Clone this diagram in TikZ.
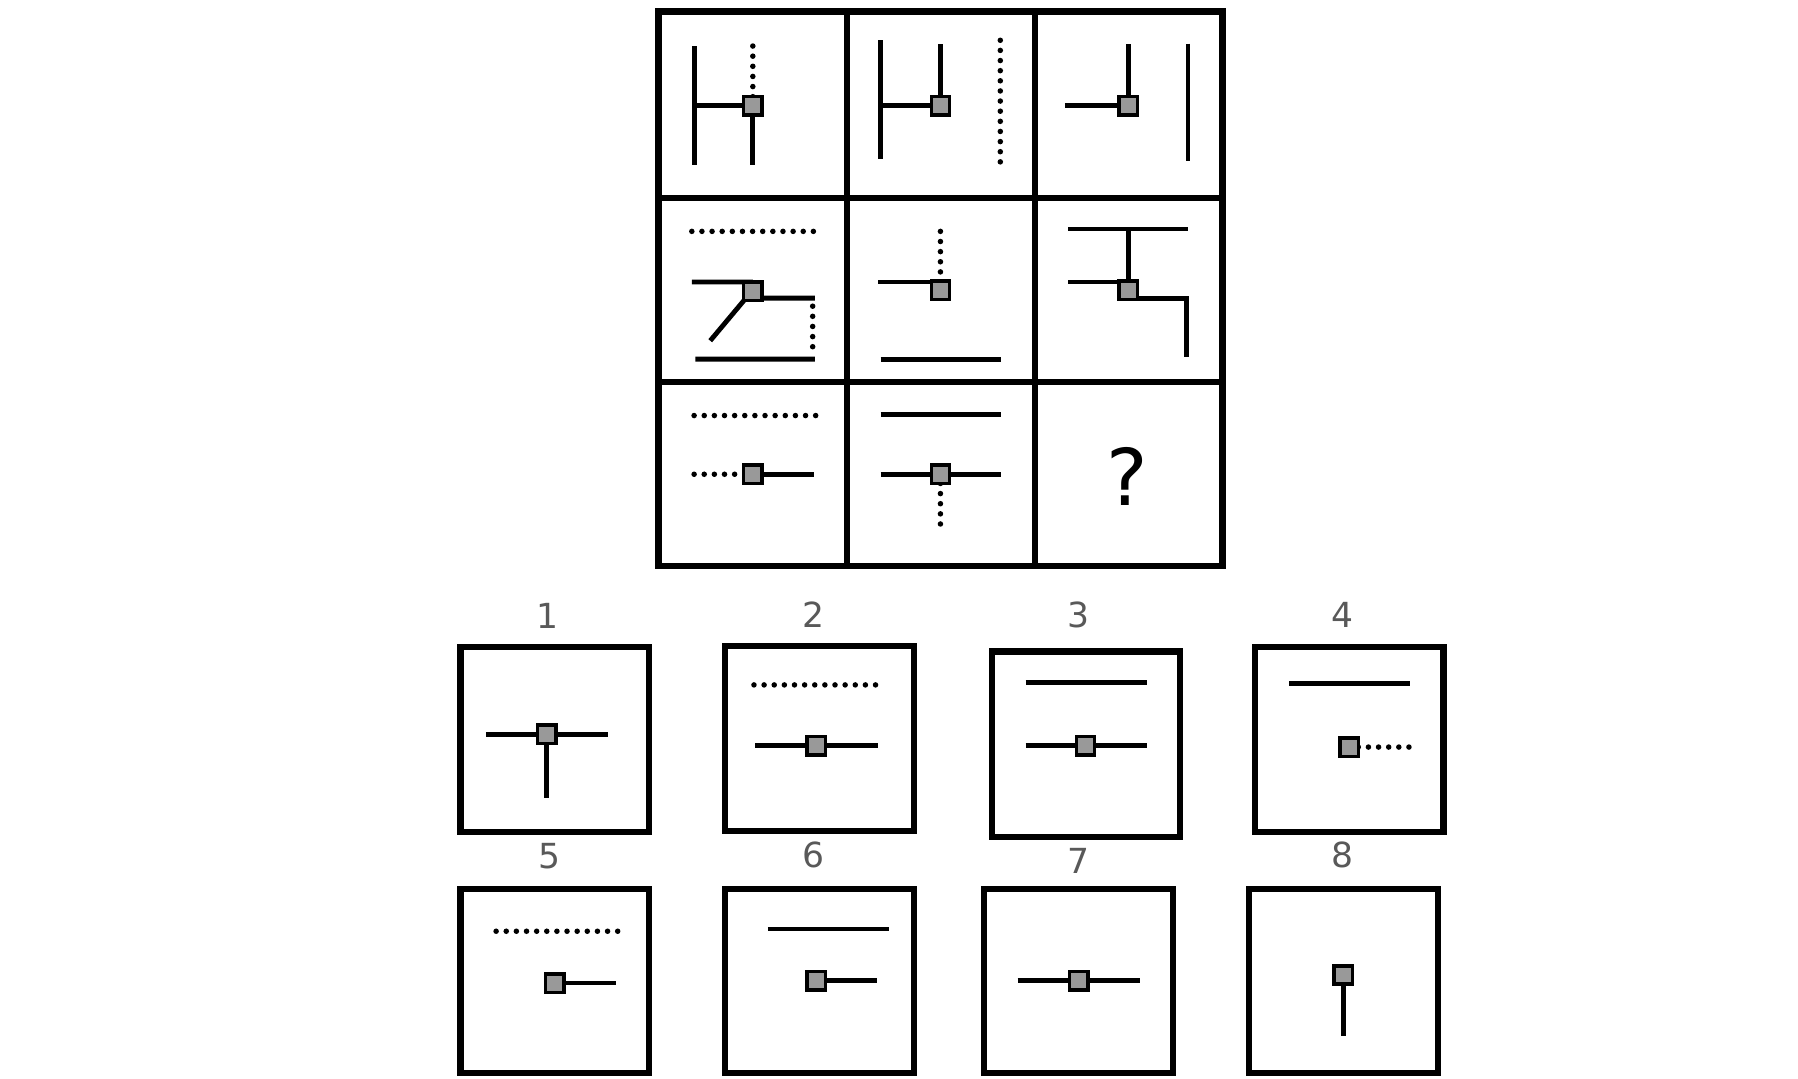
\documentclass[tikz,border=0pt]{standalone}
\usepackage{fontspec}
\setsansfont{DejaVu Sans}
\begin{document}
\begin{tikzpicture}[x=0.5pt,y=-0.5pt,
  frame/.style={line width=2.7pt},
  ln/.style={line width=2.1pt},
  dt/.style={line width=2.4pt,line cap=round,dash pattern=on 0pt off 4.4pt},
  mk/.style={draw=black,fill=gray!80,line width=1.5pt,minimum size=8pt,inner sep=0pt},
  lab/.style={font=\sffamily\fontsize{15}{15}\selectfont,text=black!65}]
\useasboundingbox (0,0) rectangle (1562,937);
% grid
\draw[frame] (572,10) rectangle (1062,492);
\draw[frame] (736,10) -- (736,492) (899,10) -- (899,492) (572,172) -- (1062,172) (572,332) -- (1062,332);
% cell 1
\draw[ln] (603,40) -- (603,143) (603,92) -- (654,92) (654,92) -- (654,143);
\draw[dt] (654,40) -- (654,86);
\node[mk] (m1) at (654,92) {};
% cell 2
\draw[ln] (765,35) -- (765,138) (765,92) -- (817,92) -- (817,38);
\draw[dt] (869,35) -- (869,142);
\node[mk] (m2) at (817,92) {};
% cell 3
\draw[ln] (925,92) -- (980,92) -- (980,38) (1032,38) -- (1032,140);
\node[mk] (m3) at (980,92) {};
% cell 4
\draw[dt] (601,201) -- (708,201);
\draw[ln] (601,245) -- (654,245) (654,259) -- (708,259) (648,259) -- (617,296) (604,312) -- (708,312);
\draw[dt] (706,266) -- (706,306);
\node[mk] (m4) at (654,253) {};
% cell 5
\draw[dt] (817,201) -- (817,244);
\draw[ln] (763,245) -- (817,245) (765,312) -- (870,312);
\node[mk] (m5) at (817,252) {};
% cell 6
\draw[ln] (928,199) -- (1032,199) (980,199) -- (980,252) (928,245) -- (980,245) (980,259) -- (1031,259) -- (1031,310);
\node[mk] (m6) at (980,252) {};
% cell 7
\draw[dt] (603,361) -- (709,361);
\draw[dt] (603,412) -- (648,412);
\draw[ln] (654,412) -- (707,412);
\node[mk] (m7) at (654,412) {};
% cell 8
\draw[ln] (765,360) -- (870,360) (765,412) -- (870,412);
\draw[dt] (817,420) -- (817,463);
\node[mk] (m8) at (817,412) {};
% cell 9
\node[font=\sffamily\fontsize{34}{34}\selectfont] (q) at (979,414) {?};
% options
\draw[frame] (400,562) rectangle (564,723);
\node[lab] (l1) at (476,535) {1};
\draw[ln] (422,638) -- (528,638) (475,638) -- (475,693);
\node[mk] (o1) at (475,638) {};
\draw[frame] (630,561) rectangle (794,722);
\node[lab] (l2) at (707,534) {2};
\draw[dt] (655,595) -- (762,595);
\draw[ln] (656,648) -- (763,648);
\node[mk] (o2) at (709,648) {};
\draw[frame] (862,566) rectangle (1025,727);
\node[lab] (l3) at (937,534) {3};
\draw[ln] (891,593) -- (996,593) (891,648) -- (996,648);
\node[mk] (o3) at (943,648) {};
\draw[frame] (1090,562) rectangle (1254,723);
\node[lab] (l4) at (1166,534) {4};
\draw[ln] (1120,594) -- (1225,594);
\draw[dt] (1180,649) -- (1225,649);
\node[mk] (o4) at (1172,649) {};
\draw[frame] (400,772) rectangle (564,932);
\node[lab] (l5) at (477,744) {5};
\draw[dt] (431,809) -- (538,809);
\draw[ln] (482,854) -- (535,854);
\node[mk] (o5) at (482,854) {};
\draw[frame] (630,772) rectangle (794,932);
\node[lab] (l6) at (707,743) {6};
\draw[ln] (667,807) -- (772,807) (709,852) -- (762,852);
\node[mk] (o6) at (709,852) {};
\draw[frame] (855,772) rectangle (1019,932);
\node[lab] (l7) at (937,748) {7};
\draw[ln] (884,852) -- (990,852);
\node[mk] (o7) at (937,852) {};
\draw[frame] (1085,772) rectangle (1249,932);
\node[lab] (l8) at (1166,743) {8};
\draw[ln] (1167,847) -- (1167,900);
\node[mk] (o8) at (1167,847) {};
\end{tikzpicture}
\end{document}
